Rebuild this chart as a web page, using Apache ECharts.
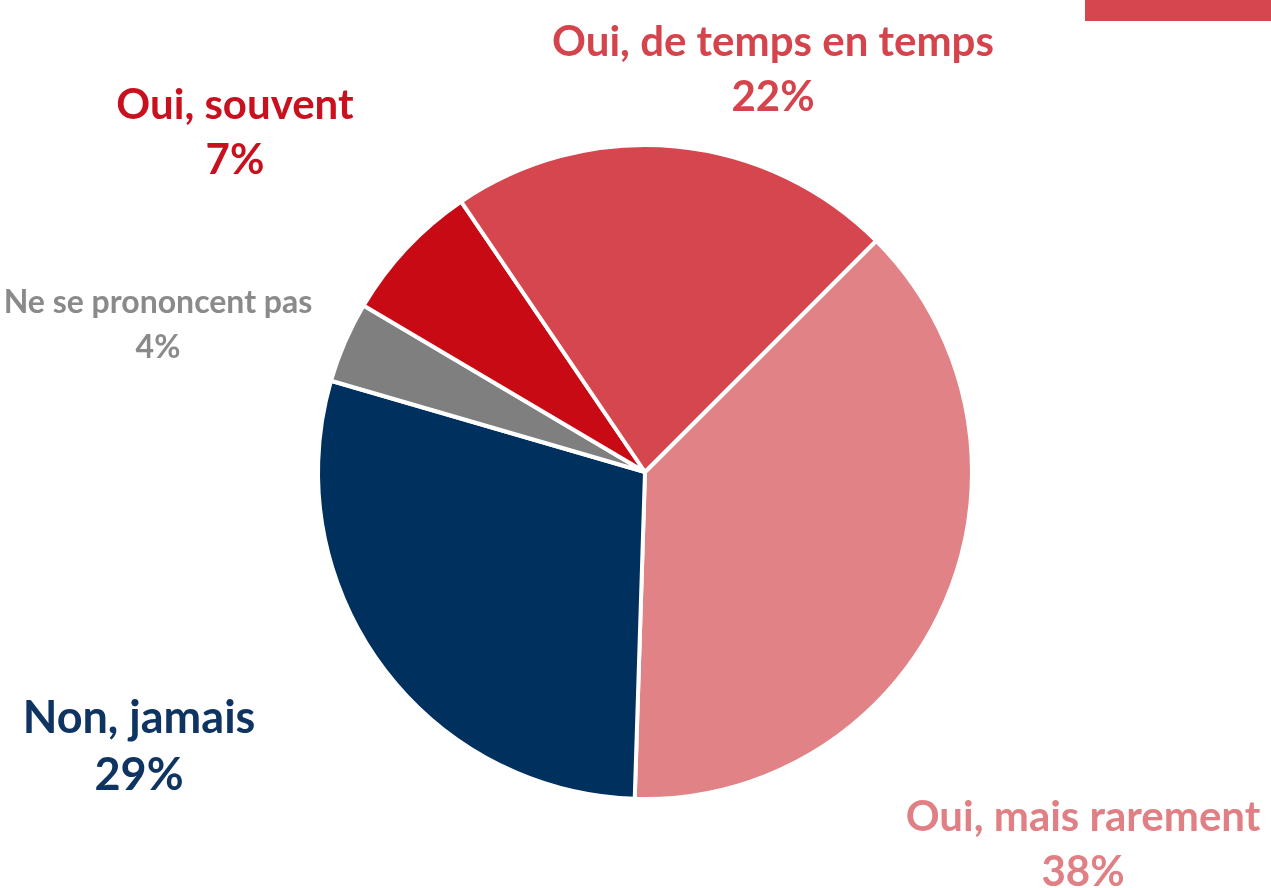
<!DOCTYPE html>
<html><head><meta charset="utf-8">
<script src="https://cdn.jsdelivr.net/npm/echarts@6/dist/echarts.min.js"></script>
<style>html,body{margin:0;padding:0;background:#fff}#c{width:1271px;height:888px}</style>
</head><body><div id="c"></div>
<script>
const categories = ["Oui, mais rarement", "Non, jamais", "Ne se prononcent pas", "Oui, souvent", "Oui, de temps en temps"];
const values = [38, 29, 4, 7, 22];
const colors = ["#E18287", "#00305E", "#7F7F7F", "#C80A14", "#D6464E"];
const labelColors = ["#E07F84", "#0F3461", "#8A8A8A", "#C8101E", "#D5444C"];
const labelSizes = [42, 45, 32, 42, 42];
const labelLineHeights = [55, 57, 45, 55, 55];
const labelPos = [[1083, 845], [139, 747], [158, 325], [235, 133], [773, 70]];

const chart = echarts.init(document.getElementById('c'));
const texts = categories.map((n, i) => ({
  type: 'text',
  x: labelPos[i][0], y: labelPos[i][1],
  style: {
    text: n + '\n' + values[i] + '%',
    fill: labelColors[i],
    font: 'bold ' + labelSizes[i] + 'px Lato',
    lineHeight: labelLineHeights[i],
    align: 'center', verticalAlign: 'middle'
  }
}));
chart.setOption({
  animation: false,
  graphic: [{type: 'rect', shape: {x: 1085, y: 0, width: 186, height: 21}, style: {fill: '#D6464E'}}].concat(texts),
  series: [{
    type: 'pie',
    center: [645, 472],
    radius: [0, 327],
    startAngle: 45,
    clockwise: true,
    itemStyle: {borderColor: '#fff', borderWidth: 4},
    label: {show: false},
    labelLine: {show: false},
    data: categories.map((n, i) => ({
      name: n, value: values[i],
      itemStyle: {color: colors[i]}
    }))
  }]
});
</script></body></html>
